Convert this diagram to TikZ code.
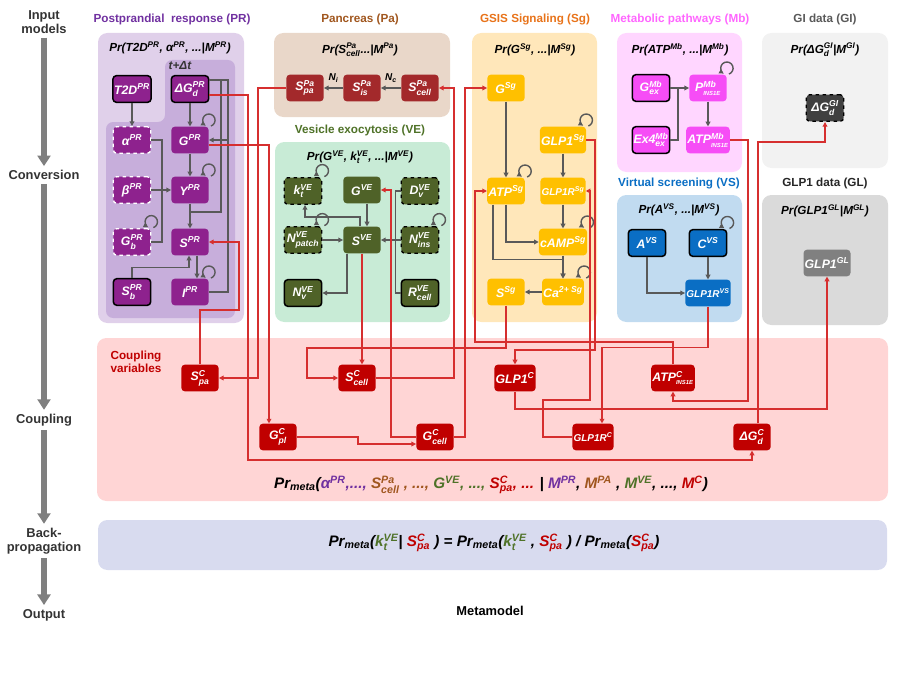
\documentclass[tikz,border=0pt]{standalone}
\usepackage{amsmath}
\usepackage{fontspec}
\setmainfont{Liberation Sans}
\usetikzlibrary{arrows.meta, calc}

\definecolor{prout}{HTML}{E0D0EA}
\definecolor{prin}{HTML}{C7AEDB}
\definecolor{prn}{HTML}{8E228E}
\definecolor{prt}{HTML}{7030A0}
\definecolor{pabg}{HTML}{E9D7C9}
\definecolor{pan}{HTML}{A3292B}
\definecolor{pat}{HTML}{A0561E}
\definecolor{vebg}{HTML}{C8EBD6}
\definecolor{ven}{HTML}{4F6228}
\definecolor{vet}{HTML}{4F7228}
\definecolor{sgbg}{HTML}{FFE7BA}
\definecolor{sgn}{HTML}{FFC000}
\definecolor{sgt}{HTML}{E8731A}
\definecolor{mbbg}{HTML}{FFD6FF}
\definecolor{mbn}{HTML}{F64DF6}
\definecolor{mbt}{HTML}{FF66FF}
\definecolor{vsbg}{HTML}{C1DBF0}
\definecolor{vsn}{HTML}{0A6EC4}
\definecolor{gibg}{HTML}{F2F2F2}
\definecolor{gin}{HTML}{404040}
\definecolor{git}{HTML}{595959}
\definecolor{glbg}{HTML}{DADADA}
\definecolor{gln}{HTML}{808080}
\definecolor{cpbg}{HTML}{FFD5D5}
\definecolor{cn}{HTML}{C00000}
\definecolor{bpbg}{HTML}{D8DBEF}
\definecolor{gline}{HTML}{595959}
\definecolor{rline}{HTML}{D62F2F}
\definecolor{stagegray}{HTML}{7F7F7F}

\newcommand\nodefont{\fontsize{10.5}{11}\selectfont\bfseries\itshape}
\newcommand\smallnodefont{\fontsize{8.5}{9}\selectfont\bfseries\itshape}
\newcommand\prfont{\fontsize{10}{11}\selectfont\bfseries\itshape}
\newcommand\ttlfont{\fontsize{10}{11}\selectfont\bfseries}
\newcommand\stagefont{\fontsize{11}{12}\selectfont\bfseries}
\newcommand\formfont{\fontsize{13}{14}\selectfont\bfseries\itshape}
\newcommand\supx[1]{$^{\text{#1}}$}
\newcommand\subx[1]{$_{\text{#1}}$}
\newcommand\supsub[2]{$^{\text{#1}}_{\text{#2}}$}
\newcommand\tinysub{\fontsize{5}{5}\selectfont INS1E}
\newcommand\selfloop[1]{\draw[gl,->] ($(#1.north east)+(2.1,-0.4)$) arc[start angle=70, end angle=-240, radius=6.2];}

\begin{document}
\begin{tikzpicture}[x=0.03cm, y=-0.03cm,
    >={Triangle[length=4pt,width=4pt]},
    panel/.style={rounded corners=8pt},
    ttl/.style={font=\ttlfont},
    prb/.style={font=\prfont},
    var/.style={rounded corners=3pt, minimum width=1.12cm, minimum height=0.8cm,
      inner sep=1pt, text=white, font=\nodefont},
    obs/.style={draw=black, line width=1.3pt},
    latw/.style={draw=white, dashed, line width=1.1pt},
    latk/.style={draw=black, dashed, line width=1.1pt},
    prv/.style={var, fill=prn},
    pav/.style={var, fill=pan},
    vev/.style={var, fill=ven},
    sgv/.style={var, fill=sgn},
    mbv/.style={var, fill=mbn},
    vsv/.style={var, fill=vsn},
    cv/.style={var, fill=cn},
    gl/.style={draw=gline, line width=1.2pt},
    rl/.style={draw=rline, line width=1.2pt},
    stage/.style={font=\stagefont, text=black!80, align=center},
    bigarrow/.style={draw=stagegray, line width=4.5pt, -{Triangle[length=9pt,width=11pt]}}
]
\useasboundingbox (0,0) rectangle (902,674);

% panels
\fill[prout, panel] (98,33) rectangle (244,323);
\fill[prin, rounded corners=6pt] (165,60) -- (235,60) -- (235,318) -- (106,318) -- (106,122) -- (165,122) -- cycle;
\fill[pabg, panel] (274,33) rectangle (450,117);
\fill[vebg, panel] (275,142) rectangle (450,322);
\fill[sgbg, panel] (472,33) rectangle (597,322);
\fill[mbbg, panel] (617,33) rectangle (742,172);
\fill[vsbg, panel] (617,195) rectangle (742,322);
\fill[gibg, panel] (762,33) rectangle (888,168);
\fill[glbg, panel] (762,195) rectangle (888,325);
\fill[cpbg, panel] (97,338) rectangle (888,501);
\fill[bpbg, panel] (98,520) rectangle (887,570);

% stages
\node[stage] (sIn) at (44,22) {Input\\models};
\node[stage] (sConv) at (44,175) {Conversion};
\node[stage] (sCoup) at (44,420) {Coupling};
\node[stage] (sBack) at (44,541) {Back-\\propagation};
\node[stage] (sOut) at (44,615) {Output};
\draw[bigarrow] (sIn) -- (sConv);
\draw[bigarrow] (sConv) -- (sCoup);
\draw[bigarrow] (sCoup) -- (sBack);
\draw[bigarrow] (sBack) -- (sOut);

% titles
\node[ttl, text=prt] (tPR) at (172,19) {Postprandial\ \ response (PR)};
\node[ttl, text=pat] (tPa) at (360,19) {Pancreas (Pa)};
\node[ttl, text=vet] (tVE) at (360,130) {Vesicle exocytosis (VE)};
\node[ttl, text=sgt] (tSg) at (535,19) {GSIS Signaling (Sg)};
\node[ttl, text=mbt] (tMb) at (680,19) {Metabolic pathways (Mb)};
\node[ttl, text=vsn] (tVS) at (679,183) {Virtual screening (VS)};
\node[ttl, text=git] (tGI) at (825,19) {GI data (GI)};
\node[ttl, text=black!85] (tGL) at (825,183) {GLP1 data (GL)};

% model probabilities
\node[prb] (fPR) at (170,48) {Pr(T2D\supx{PR}, α\supx{PR}, ...|M\supx{PR})};
\node[prb] (fPa) at (360,50) {Pr(S\supsub{Pa}{cell}...|M\supx{Pa})};
\node[prb] (fVE) at (360,157) {Pr(G\supx{VE}, k\supsub{VE}{t}, ...|M\supx{VE})};
\node[prb] (fSg) at (535,50) {Pr(G\supx{Sg}, ...|M\supx{Sg})};
\node[prb] (fMb) at (680,50) {Pr(ATP\supx{Mb}, ...|M\supx{Mb})};
\node[prb] (fVS) at (679,210) {Pr(A\supx{VS}, ...|M\supx{VS})};
\node[prb] (fGI) at (825,50) {Pr(ΔG\supsub{GI}{d}|M\supx{GI})};
\node[prb] (fGL) at (825,211) {Pr(GLP1\supx{GL}|M\supx{GL})};

% PR nodes
\node[prb, text=black!80] (tdt) at (180,66) {t+Δt};
\node[prv, obs] (T2D) at (132,89) {T2D\supx{PR}};
\node[prv, obs] (dGpr) at (190,89) {ΔG\supsub{PR}{d}};
\node[prv, latw] (alpha) at (132,140) {α\supx{PR}};
\node[prv] (Gpr) at (190,140) {G\supx{PR}};
\node[prv, latw] (beta) at (132,190) {β\supx{PR}};
\node[prv] (Ypr) at (190,190) {Y\supx{PR}};
\node[prv, latw] (Gb) at (132,242) {G\supsub{PR}{b}};
\node[prv] (Spr) at (190,242) {S\supx{PR}};
\node[prv, obs] (Sb) at (132,292) {S\supsub{PR}{b}};
\node[prv] (Ipr) at (190,292) {I\supx{PR}};

\draw[gl,->] (T2D) -- (alpha);
\draw[gl,->] (dGpr) -- (Gpr);
\draw[gl,->] (Gpr) -- (Ypr);
\draw[gl,->] (Ypr) -- (Spr);
\draw[gl,->] (beta) -- (Ypr);
\draw[gl] (alpha.east) -| (162,190);
\draw[gl] (Gb.east) -| (162,190);
\draw[gl,->] ($(Spr.south)+(7,0)$) -- ($(Ipr.north)+(7,0)$);
\draw[gl,->] (Sb.north) |- ($(Spr.south)+(-1,12)$) -- ($(Spr.south)+(-1,0)$);
\draw[gl] ($(dGpr.east)+(0,-9)$) -| (228,140);
\draw[gl,->] (Ipr.east) -| (228,140) -- (Gpr.east);
\draw[gl] ($(dGpr.east)+(0,-9)$) -| (221,212) -- (190,212);
\selfloop{Gpr}
\selfloop{Ypr}
\selfloop{Gb}
\selfloop{Ipr}

% Pa nodes
\node[pav] (Spapa) at (305,88) {S\supsub{Pa}{pa}};
\node[pav] (Spais) at (362,88) {S\supsub{Pa}{is}};
\node[pav] (Spacell) at (420,88) {S\supsub{Pa}{cell}};
\draw[gl,->] (Spacell) -- node[above=1pt, text=black, font=\smallnodefont] {N\subx{c}} (Spais);
\draw[gl,->] (Spais) -- node[above=1pt, text=black, font=\smallnodefont] {N\subx{i}} (Spapa);

% VE nodes
\node[vev, latk] (kt) at (303,191) {k\supsub{VE}{t}};
\node[vev] (Gve) at (362,190) {G\supx{VE}};
\node[vev, latk] (Dv) at (420,191) {D\supsub{VE}{v}};
\node[vev, latk] (Npatch) at (303,240) {N\supsub{VE}{patch}};
\node[vev] (Sve) at (362,240) {S\supx{VE}};
\node[vev, latk] (Nins) at (420,240) {N\supsub{VE}{ins}};
\node[vev, obs] (Nv) at (303,293) {N\supsub{VE}{v}};
\node[vev, obs] (Rcell) at (420,293) {R\supsub{VE}{cell}};

\draw[gl,->] ($(Gve.south)+(5,0)$) -- ($(Sve.north)+(5,0)$);
\draw[gl,->] ($(Sve.north)+(-2,0)$) |- ($(kt.south)+(2,12)$) -- ($(kt.south)+(2,0)$);
\draw[gl,->] (Npatch) -- (Sve);
\draw[gl,->] (Nins) -- (Sve);
\draw[gl] (Dv.west) -- ++(-5,0) |- (Rcell.west);
\draw[gl,->] ($(Sve.south)+(-15,0)$) |- (Nv.east);
\selfloop{kt}
\selfloop{Npatch}
\selfloop{Nins}

% Sg nodes
\node[sgv] (Gsg) at (506,88) {G\supx{Sg}};
\node[sgv] (GLP1sg) at (563,140) {GLP1\supx{Sg}};
\node[sgv] (ATPsg) at (506,191) {ATP\supx{Sg}};
\node[sgv, font=\smallnodefont] (GLP1Rsg) at (563,191) {GLP1R\supx{Sg}};
\node[sgv] (cAMPsg) at (563,242) {cAMP\supx{Sg}};
\node[sgv] (Ssg) at (506,292) {S\supx{Sg}};
\node[sgv] (Casg) at (563,292) {Ca\supx{2+ Sg}};

\draw[gl,->] (Gsg) -- (ATPsg);
\draw[gl,->] (GLP1sg) -- (GLP1Rsg);
\draw[gl,->] (GLP1Rsg) -- (cAMPsg);
\draw[gl,->] (cAMPsg) -- (Casg);
\draw[gl,->] (ATPsg.south) |- (cAMPsg.west);
\draw[gl,->] ($(ATPsg.south)+(-13,0)$) |- ($(Casg.north)+(0,-19)$) -- (Casg.north);
\draw[gl,->] (Casg) -- (Ssg);
\selfloop{GLP1sg}
\selfloop{ATPsg}
\selfloop{cAMPsg}
\selfloop{Casg}

% Mb nodes
\node[mbv, obs] (Gex) at (651,88) {G\supsub{Mb}{ex}};
\node[mbv] (Pmb) at (708,88) {P\supsub{Mb}{\tinysub}};
\node[mbv, obs] (Ex4) at (651,140) {Ex4\supsub{Mb}{ex}};
\node[mbv] (ATPmb) at (708,140) {ATP\supsub{Mb}{\tinysub}};
\draw[gl,->] (Gex) -- (Pmb);
\draw[gl] (Ex4.east) -| (678,88);
\draw[gl,->] (Pmb) -- (ATPmb);
\selfloop{Pmb}

% VS nodes
\node[vsv, obs] (Avs) at (647,243) {A\supx{VS}};
\node[vsv, obs] (Cvs) at (708,243) {C\supx{VS}};
\node[vsv, font=\smallnodefont] (GLP1Rvs) at (708,293) {GLP1R\supx{VS}};
\draw[gl,->] (Cvs) -- (GLP1Rvs);
\draw[gl,->] (Avs.south) |- (GLP1Rvs.west);
\selfloop{Cvs}

% data nodes
\node[var, fill=gin, latk] (dGgi) at (825,108) {ΔG\supsub{GI}{d}};
\node[var, fill=gln] (GLP1gl) at (827,263) {GLP1\supx{GL}};

% coupling
\node[ttl, text=cn, align=left] (cvar) at (136,362) {Coupling\\variables};
\node[cv] (Spac) at (200,378) {S\supsub{C}{pa}};
\node[cv] (Scellc) at (357,378) {S\supsub{C}{cell}};
\node[cv] (GLP1c) at (515,378) {GLP1\supx{C}};
\node[cv] (ATPc) at (673,378) {ATP\supsub{C}{\tinysub}};
\node[cv] (Gplc) at (278,437) {G\supsub{C}{pl}};
\node[cv] (Gcellc) at (435,437) {G\supsub{C}{cell}};
\node[cv, font=\smallnodefont] (GLP1Rc) at (593,437) {GLP1R\supx{C}};
\node[cv] (dGc) at (752,437) {ΔG\supsub{C}{d}};

% coupling links
\draw[rl,->] ($(dGpr.east)+(0,6)$) -| (248,460) -| (dGc.south);
\draw[rl,->] ($(Gpr.east)+(0,5)$) -| ($(Gplc.north)+(-9,0)$);
\draw[rl,->] (Spapa.west) -| (258,378) -- (Spac.east);
\draw[rl,->] (Spac.north) |- (239,310) |- (Spr.east);
\draw[rl,->] (Scellc.east) -| (454,88) -- (Spacell.east);
\draw[rl,->] (Sve.south) -- (Sve.south |- Scellc.north);
\draw[rl,->] (Gcellc.west) -| (391,190) -- (Gve.east);
\draw[rl,->] (Gplc.east) -- ++(61,0) |- ($(Gcellc.west)+(0,7)$);
\draw[rl,->] (Gcellc.east) -| (465,88) -- (Gsg.west);
\draw[rl,->] (Ssg.south) |- (307,348) |- (Scellc.west);
\draw[rl,->] (ATPc.north) |- (475,342) |- (ATPsg.west);
\draw[rl,->] (GLP1sg.east) -| (595,350) -| (GLP1c.north);
\draw[rl,->] (GLP1Rc.west) -| (543,400) -| (590,191) -- (GLP1Rsg.east);
\draw[rl,->] (GLP1c.south) |- (827,409) -- (GLP1gl.south);
\draw[rl,->] (GLP1Rvs.south) |- ($(GLP1Rc.north)+(9,-76)$) -- ($(GLP1Rc.north)+(9,0)$);
\draw[rl,->] (ATPmb.east) -| (748,401) -| (ATPc.south);
\draw[rl,->] ($(dGc.north)+(6,0)$) |- ($(dGgi.south)+(0,20)$) -- (dGgi.south);

% meta formulas
\node[font=\formfont] (fMeta) at (491,485) {Pr\subx{meta}(\textcolor{prt}{α\supx{PR},...,} \textcolor{pat}{S\supsub{Pa}{cell} , ...,} \textcolor{vet}{G\supx{VE}, ...,} \textcolor{cn}{S\supsub{C}{pa}, ...} | \textcolor{prt}{M\supx{PR}}, \textcolor{pat}{M\supx{PA}} , \textcolor{vet}{M\supx{VE}}, ..., \textcolor{cn}{M\supx{C}})};
\node[font=\formfont] (fBack) at (494,543) {Pr\subx{meta}(\textcolor{vet}{k\supsub{VE}{t}}| \textcolor{cn}{S\supsub{C}{pa}} ) = Pr\subx{meta}(\textcolor{vet}{k\supsub{VE}{t}} , \textcolor{cn}{S\supsub{C}{pa}} )\ /\ Pr\subx{meta}(\textcolor{cn}{S\supsub{C}{pa}})};
\node[stage, text=black] (meta) at (490,611) {Metamodel};
\end{tikzpicture}
\end{document}
